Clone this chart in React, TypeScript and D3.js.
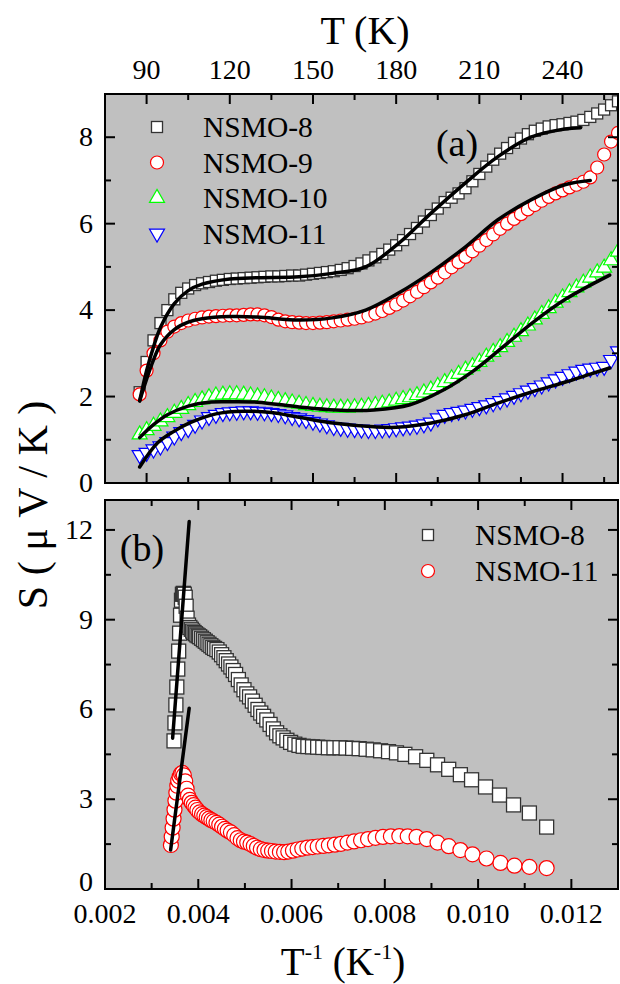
import React, { useEffect, useRef } from "react";
import * as d3 from "d3";

// ---------- panel (a): S vs T ----------
const tempA = [
  87.5, 90, 92.5, 95, 97.5, 100, 102.5, 105, 107.5, 110,
  112.5, 115, 117.5, 120, 122.5, 125, 127.5, 130, 132.5, 135,
  137.5, 140, 142.5, 145, 147.5, 150, 152.5, 155, 157.5, 160,
  162.5, 165, 167.5, 170, 172.5, 175, 177.5, 180, 182.5, 185,
  187.5, 190, 192.5, 195, 197.5, 200, 202.5, 205, 207.5, 210,
  212.5, 215, 217.5, 220, 222.5, 225, 227.5, 230, 232.5, 235,
  237.5, 240, 242.5, 245, 247.5, 250, 252.5, 255, 257.5, 260,
];
const sNSMO8 = [
  2.1, 2.8, 3.3, 3.7, 4.0, 4.25, 4.4, 4.5, 4.58, 4.62,
  4.65, 4.68, 4.7, 4.72, 4.73, 4.74, 4.75, 4.76, 4.77, 4.78,
  4.78, 4.79, 4.8, 4.8, 4.82, 4.84, 4.86, 4.88, 4.9, 4.93,
  4.97, 5.02, 5.08, 5.15, 5.22, 5.3, 5.4, 5.5, 5.62, 5.76,
  5.9, 6.05, 6.2, 6.35, 6.5, 6.6, 6.7, 6.82, 6.98, 7.15,
  7.32, 7.48, 7.62, 7.75, 7.87, 7.97, 8.07, 8.15, 8.2, 8.25,
  8.28, 8.3, 8.33, 8.36, 8.4, 8.47, 8.55, 8.64, 8.74, 8.83,
];
const sNSMO9 = [
  2.05, 2.6, 3.0, 3.3, 3.5, 3.62, 3.7, 3.76, 3.8, 3.83,
  3.85, 3.86, 3.87, 3.88, 3.88, 3.89, 3.9, 3.9, 3.88, 3.84,
  3.78, 3.74, 3.72, 3.71, 3.7, 3.7, 3.71, 3.72, 3.74, 3.76,
  3.78, 3.8, 3.83, 3.87, 3.92, 3.98, 4.05, 4.13, 4.22, 4.32,
  4.42, 4.53, 4.64, 4.75, 4.87, 4.99, 5.11, 5.23, 5.36, 5.49,
  5.62, 5.75, 5.88, 6.0, 6.11, 6.22, 6.33, 6.43, 6.53, 6.62,
  6.7, 6.77, 6.84, 6.9, 6.97, 7.07, 7.3, 7.6, 7.9, 8.1,
];
const sNSMO10 = [
  1.12, 1.22, 1.32, 1.42, 1.52, 1.62, 1.71, 1.8, 1.87, 1.93,
  1.98, 2.02, 2.04, 2.05, 2.05, 2.04, 2.02, 2.0, 1.98, 1.95,
  1.92, 1.89, 1.86, 1.83, 1.8, 1.78, 1.76, 1.75, 1.74, 1.74,
  1.74, 1.75, 1.76, 1.78, 1.8, 1.83, 1.86, 1.9, 1.94, 1.98,
  2.03, 2.09, 2.16, 2.24, 2.33, 2.42, 2.52, 2.62, 2.7, 2.8,
  2.92, 3.03, 3.14, 3.26, 3.38, 3.51, 3.64, 3.78, 3.91, 4.04,
  4.17, 4.29, 4.41, 4.52, 4.63, 4.75, 4.87, 4.98, 5.15, 5.35,
];
const sNSMO11 = [
  0.65, 0.7, 0.78, 0.85, 0.95, 1.08, 1.18, 1.25, 1.35, 1.45,
  1.53, 1.58, 1.62, 1.64, 1.65, 1.66, 1.66, 1.65, 1.64, 1.62,
  1.6, 1.57, 1.53, 1.5, 1.46, 1.42, 1.38, 1.34, 1.3, 1.28,
  1.26, 1.25, 1.24, 1.23, 1.23, 1.24, 1.25, 1.27, 1.29, 1.31,
  1.33, 1.36, 1.4, 1.5, 1.58, 1.62, 1.65, 1.68, 1.72, 1.76,
  1.8, 1.85, 1.9, 1.96, 2.02, 2.08, 2.14, 2.2, 2.26, 2.33,
  2.4, 2.46, 2.52, 2.58, 2.62, 2.65, 2.67, 2.69, 2.85, 3.05,
];

// fitted curves (a)
const fitT8 = [87.5, 90, 92.5, 95, 100, 105, 110, 120, 130, 145, 157, 169, 181, 192.7, 204.9, 216.7, 228.6, 240.8, 246.5];
const fitS8 = [1.9, 2.6, 3.15, 3.6, 4.15, 4.45, 4.6, 4.72, 4.75, 4.77, 4.85, 5.0, 5.55, 6.25, 6.94, 7.55, 8.0, 8.19, 8.22];
const fitT9 = [87.5, 90, 92.5, 95, 100, 105, 110, 120, 130, 145, 157, 169, 181, 192.7, 204.9, 216.7, 228.6, 240.8, 250];
const fitS9 = [1.9, 2.4, 2.85, 3.2, 3.55, 3.72, 3.8, 3.85, 3.84, 3.77, 3.82, 4.0, 4.4, 4.88, 5.46, 6.09, 6.55, 6.9, 7.0];
const fitT10 = [87.5, 92.5, 97.5, 105, 112.5, 120, 130, 145, 158, 172, 185, 197, 208, 218, 229, 241, 257];
const fitS10 = [1.05, 1.35, 1.58, 1.78, 1.87, 1.88, 1.87, 1.76, 1.69, 1.69, 1.81, 2.15, 2.6, 3.12, 3.7, 4.25, 4.81];
const fitT11 = [87.5, 94, 100, 105.5, 115, 125, 135, 145, 158, 172, 180, 192.7, 204.9, 216.7, 228.6, 240.8, 250, 257];
const fitS11 = [0.37, 0.93, 1.2, 1.39, 1.6, 1.66, 1.63, 1.52, 1.38, 1.3, 1.29, 1.39, 1.58, 1.85, 2.1, 2.33, 2.52, 2.66];

// ---------- panel (b): S vs 1/T ----------
const invB8 = [
  0.00348, 0.0035, 0.00352, 0.00354, 0.00356, 0.00358, 0.0036, 0.00362, 0.00364, 0.00366,
  0.00368, 0.0037, 0.00372, 0.00374, 0.00376, 0.00379, 0.00382, 0.00385, 0.00388, 0.00391,
  0.00394, 0.00397, 0.004, 0.00403, 0.00407, 0.00411, 0.00415, 0.00419, 0.00423, 0.00427,
  0.00431, 0.00435, 0.0044, 0.00445, 0.0045, 0.00455, 0.0046, 0.00465, 0.0047, 0.00475,
  0.0048, 0.00486, 0.00492, 0.00498, 0.00504, 0.0051, 0.00516, 0.00522, 0.00528, 0.00534,
  0.0054, 0.00547, 0.00554, 0.00561, 0.00568, 0.00575, 0.00582, 0.0059, 0.00598, 0.00607,
  0.00616, 0.00625, 0.00635, 0.00645, 0.00656, 0.00667, 0.00679, 0.00691, 0.00704, 0.00717,
  0.00731, 0.00745, 0.0076, 0.00775, 0.00791, 0.00808, 0.00825, 0.00843, 0.00866, 0.0089,
  0.00913, 0.00937, 0.00962, 0.00986, 0.01016, 0.01046, 0.01076, 0.0111, 0.01147,
];
const sB8 = [
  4.95, 5.55, 6.15, 6.75, 7.35, 7.95, 8.55, 9.15, 9.65, 9.85,
  9.88, 9.85, 9.75, 9.45, 9.05, 8.82, 8.74, 8.68, 8.62, 8.57,
  8.53, 8.49, 8.46, 8.43, 8.38, 8.33, 8.28, 8.23, 8.18, 8.13,
  8.08, 8.04, 8.0, 7.92, 7.83, 7.73, 7.63, 7.52, 7.42, 7.3,
  7.17, 7.0, 6.82, 6.66, 6.52, 6.42, 6.28, 6.14, 6.0, 5.88,
  5.77, 5.65, 5.5, 5.35, 5.22, 5.12, 5.05, 4.97, 4.9, 4.84,
  4.8, 4.77, 4.76, 4.75, 4.74, 4.73, 4.72, 4.72, 4.72, 4.71,
  4.7, 4.69, 4.67, 4.65, 4.62, 4.59, 4.55, 4.5, 4.42, 4.3,
  4.15, 4.0, 3.82, 3.65, 3.41, 3.14, 2.81, 2.54, 2.07,
];
const invB11 = [
  0.003413, 0.00343, 0.00345, 0.00347, 0.00349, 0.00351, 0.00353, 0.00355, 0.00357, 0.0036,
  0.00363, 0.00366, 0.00369, 0.00372, 0.00375, 0.00378, 0.00382, 0.00386, 0.0039, 0.00394,
  0.00398, 0.00403, 0.00408, 0.00413, 0.00418, 0.00423, 0.00428, 0.00433, 0.00439, 0.00445,
  0.00451, 0.00457, 0.00463, 0.0047, 0.00477, 0.00484, 0.00491, 0.00498, 0.00505, 0.00512,
  0.00519, 0.00526, 0.00534, 0.00542, 0.0055, 0.00558, 0.00566, 0.00575, 0.00584, 0.00593,
  0.00603, 0.00613, 0.00623, 0.00634, 0.00645, 0.00656, 0.00668, 0.0068, 0.00693, 0.00706,
  0.0072, 0.00734, 0.00749, 0.00764, 0.0078, 0.00796, 0.00813, 0.00831, 0.00849, 0.00868,
  0.0089, 0.00913, 0.00937, 0.00962, 0.00988, 0.01018, 0.01048, 0.01078, 0.0111, 0.01147,
];
const sB11 = [
  1.47, 1.75, 2.05, 2.35, 2.65, 2.95, 3.22, 3.45, 3.62, 3.75,
  3.85, 3.88, 3.8, 3.6, 3.35, 3.12, 2.98, 2.88, 2.8, 2.72,
  2.64, 2.56, 2.5, 2.45, 2.4, 2.35, 2.3, 2.26, 2.21, 2.15,
  2.08, 2.01, 1.95, 1.89, 1.8, 1.7, 1.63, 1.58, 1.55, 1.5,
  1.44, 1.38, 1.33, 1.3, 1.28, 1.27, 1.25, 1.24, 1.23, 1.25,
  1.28, 1.32, 1.35, 1.38, 1.4, 1.42, 1.44, 1.46, 1.48, 1.51,
  1.55, 1.59, 1.63, 1.67, 1.71, 1.74, 1.76, 1.77, 1.76, 1.74,
  1.67, 1.55, 1.43, 1.3, 1.16, 1.02, 0.87, 0.78, 0.74, 0.7,
];
// linear fits (b)
const lineInv8 = [0.00345, 0.003805];
const lineS8 = [5.04, 12.28];
const lineInv11 = [0.003407, 0.003805];
const lineS11 = [1.3, 6.04];

// ticks
const tMajorA = [90, 120, 150, 180, 210, 240];
const tMinorA = [105, 135, 165, 195, 225, 255];
const yMajorA = [0, 2, 4, 6, 8];
const yMinorA = [1, 3, 5, 7];
const xMajorB = [0.002, 0.004, 0.006, 0.008, 0.01, 0.012];
const xMinorB = [0.003, 0.005, 0.007, 0.009, 0.011];
const yMajorB = [0, 3, 6, 9, 12];
const yMinorB = [1.5, 4.5, 7.5, 10.5];

const W = 620;
const H = 984;
const L = 105;
const R = 618;
const aTop = 94;
const aBot = 483;
const bTop = 500;
const bBot = 889;
const FONT = "Liberation Serif, Tinos, Times New Roman, Times, DejaVu Serif, serif";

type Sel = d3.Selection<SVGGElement, unknown, null, undefined>;

function drawMarker(g: Sel, kind: string, x: number, y: number, big: boolean) {
  if (kind === "square") {
    const s = big ? 14 : 11;
    g.append("rect").attr("x", x - s / 2).attr("y", y - s / 2).attr("width", s).attr("height", s)
      .attr("fill", "#fff").attr("stroke", "#333").attr("stroke-width", 1.3);
  } else if (kind === "circle") {
    g.append("circle").attr("cx", x).attr("cy", y).attr("r", big ? 7.5 : 6.5)
      .attr("fill", "#fff").attr("stroke", "#ff0000").attr("stroke-width", 1.2);
  } else {
    const w = 15, h = 13;
    const up = kind === "up";
    const s = up ? 1 : -1;
    const p = `M${x},${y - s * (2 * h) / 3}L${x + w / 2},${y + s * h / 3}L${x - w / 2},${y + s * h / 3}Z`;
    g.append("path").attr("d", p).attr("fill", "#fff")
      .attr("stroke", up ? "#00ff00" : "#0000ff").attr("stroke-width", 1.2);
  }
}

export default function App() {
  const ref = useRef<SVGSVGElement>(null);

  useEffect(() => {
    const svg = d3.select(ref.current);
    svg.selectAll("*").remove();

    const xA = d3.scaleLinear().domain([75, 260]).range([L, R]);
    const yA = d3.scaleLinear().domain([0, 9]).range([aBot, aTop]);
    const xB = d3.scaleLinear().domain([0.002, 0.013]).range([L, R]);
    const yB = d3.scaleLinear().domain([0, 13]).range([bBot, bTop]);

    const defs = svg.append("defs");
    defs.append("clipPath").attr("id", "clipA").append("rect")
      .attr("x", L).attr("y", aTop).attr("width", R - L).attr("height", aBot - aTop);
    defs.append("clipPath").attr("id", "clipB").append("rect")
      .attr("x", L).attr("y", bTop).attr("width", R - L).attr("height", bBot - bTop);

    // backgrounds
    svg.append("rect").attr("x", L).attr("y", aTop).attr("width", R - L).attr("height", aBot - aTop).attr("fill", "#c0c0c0");
    svg.append("rect").attr("x", L).attr("y", bTop).attr("width", R - L).attr("height", bBot - bTop).attr("fill", "#c0c0c0");

    // ----- panel a data -----
    const gA = svg.append("g").attr("clip-path", "url(#clipA)");
    const seriesA: [number[], string][] = [
      [sNSMO8, "square"],
      [sNSMO9, "circle"],
      [sNSMO10, "up"],
      [sNSMO11, "down"],
    ];
    seriesA.forEach(([vals, kind]) => {
      const g = gA.append("g") as unknown as Sel;
      vals.forEach((v, i) => drawMarker(g, kind, xA(tempA[i]), yA(v), false));
    });
    const fitsA: [number[], number[]][] = [
      [fitT8, fitS8],
      [fitT9, fitS9],
      [fitT10, fitS10],
      [fitT11, fitS11],
    ];
    fitsA.forEach(([ts, ss]) => {
      const line = d3.line<number>()
        .x((_, i) => xA(ts[i]))
        .y((d) => yA(d))
        .curve(d3.curveCatmullRom.alpha(0.5));
      gA.append("path").attr("d", line(ss) as string).attr("fill", "none")
        .attr("stroke", "#000").attr("stroke-width", 3.5).attr("stroke-linecap", "round");
    });

    // ----- panel b data -----
    const gB = svg.append("g").attr("clip-path", "url(#clipB)");
    const g8 = gB.append("g") as unknown as Sel;
    sB8.forEach((v, i) => drawMarker(g8, "square", xB(invB8[i]), yB(v), true));
    const g11 = gB.append("g") as unknown as Sel;
    sB11.forEach((v, i) => drawMarker(g11, "circle", xB(invB11[i]), yB(v), true));
    [[lineInv8, lineS8], [lineInv11, lineS11]].forEach(([xs, ss]) => {
      gB.append("line")
        .attr("x1", xB(xs[0])).attr("y1", yB(ss[0]))
        .attr("x2", xB(xs[1])).attr("y2", yB(ss[1]))
        .attr("stroke", "#000").attr("stroke-width", 3.5).attr("stroke-linecap", "round");
    });

    // ----- frames and ticks -----
    const axes = svg.append("g").attr("stroke", "#000").attr("stroke-width", 2);
    const hTicks = (sc: d3.ScaleLinear<number, number>, vals: number[], y: number, dir: number, len: number) => {
      vals.forEach((v) => {
        axes.append("line").attr("x1", sc(v)).attr("x2", sc(v)).attr("y1", y).attr("y2", y + dir * len);
      });
    };
    const vTicks = (sc: d3.ScaleLinear<number, number>, vals: number[], x: number, dir: number, len: number) => {
      vals.forEach((v) => {
        axes.append("line").attr("y1", sc(v)).attr("y2", sc(v)).attr("x1", x).attr("x2", x + dir * len);
      });
    };
    const MAJ = 10;
    const MIN = 6;
    hTicks(xA, tMajorA, aTop, 1, MAJ);
    hTicks(xA, tMinorA, aTop, 1, MIN);
    hTicks(xA, tMajorA, aBot, -1, MAJ);
    hTicks(xA, tMinorA, aBot, -1, MIN);
    vTicks(yA, yMajorA, L, 1, MAJ);
    vTicks(yA, yMinorA, L, 1, MIN);
    vTicks(yA, yMajorA, R, -1, MAJ);
    vTicks(yA, yMinorA, R, -1, MIN);
    hTicks(xB, xMajorB, bBot, -1, MAJ);
    hTicks(xB, xMinorB, bBot, -1, MIN);
    hTicks(xB, xMajorB, bTop, 1, MAJ);
    hTicks(xB, xMinorB, bTop, 1, MIN);
    vTicks(yB, yMajorB, L, 1, MAJ);
    vTicks(yB, yMinorB, L, 1, MIN);
    vTicks(yB, yMajorB, R, -1, MAJ);
    vTicks(yB, yMinorB, R, -1, MIN);

    svg.append("rect").attr("x", L).attr("y", aTop).attr("width", R - L).attr("height", aBot - aTop)
      .attr("fill", "none").attr("stroke", "#000").attr("stroke-width", 2);
    svg.append("rect").attr("x", L).attr("y", bTop).attr("width", R - L).attr("height", bBot - bTop)
      .attr("fill", "none").attr("stroke", "#000").attr("stroke-width", 2);

    // ----- texts -----
    const txt = svg.append("g").style("font-family", FONT).attr("fill", "#000");
    const T = (x: number, y: number, size: number, s: string, anchor = "middle") =>
      txt.append("text").attr("x", x).attr("y", y).attr("text-anchor", anchor)
        .style("font-family", FONT).style("font-size", size + "px").text(s);

    tMajorA.forEach((v) => T(xA(v), 79, 28, String(v)));
    xMajorB.forEach((v) => T(xB(v), 923, 28, d3.format(".3f")(v)));
    yMajorA.forEach((v) => T(93, yA(v) + 9, 28, String(v), "end"));
    yMajorB.forEach((v) => T(93, yB(v) + (v === 0 ? 2 : 9), 28, String(v), "end"));

    T(365, 44, 40, "T (K)");
    const bt = T(343, 975, 39, "T");
    bt.append("tspan").style("font-size", "22px").attr("dy", -16).text("-1");
    bt.append("tspan").attr("dy", 16).text(" (K");
    bt.append("tspan").style("font-size", "22px").attr("dy", -16).text("-1");
    bt.append("tspan").attr("dy", 16).text(")");
    T(0, 0, 42, "S ( \u03bc V / K )").attr("transform", "translate(47,505) rotate(-90)");

    T(457, 156, 38, "(a)");
    T(142, 561, 38, "(b)");

    // ----- legends -----
    const legA: [string, string][] = [
      ["square", "NSMO-8"],
      ["circle", "NSMO-9"],
      ["up", "NSMO-10"],
      ["down", "NSMO-11"],
    ];
    const lg = svg.append("g") as unknown as Sel;
    legA.forEach(([kind, name], i) => {
      const y = 127 + i * 35.5;
      drawMarker(lg, kind, 157, y, false);
      T(203, y + 10, 29.5, name, "start");
    });
    const legB: [string, string][] = [
      ["square", "NSMO-8"],
      ["circle", "NSMO-11"],
    ];
    legB.forEach(([kind, name], i) => {
      const y = 535 + i * 36;
      drawMarker(lg, kind, 428, y, false);
      T(475, y + 10, 29.5, name, "start");
    });
  }, []);

  return (
    <div style={{ position: "absolute", left: 0, top: 0, background: "#fff" }}>
      <svg ref={ref} width={W} height={H} />
    </div>
  );
}
